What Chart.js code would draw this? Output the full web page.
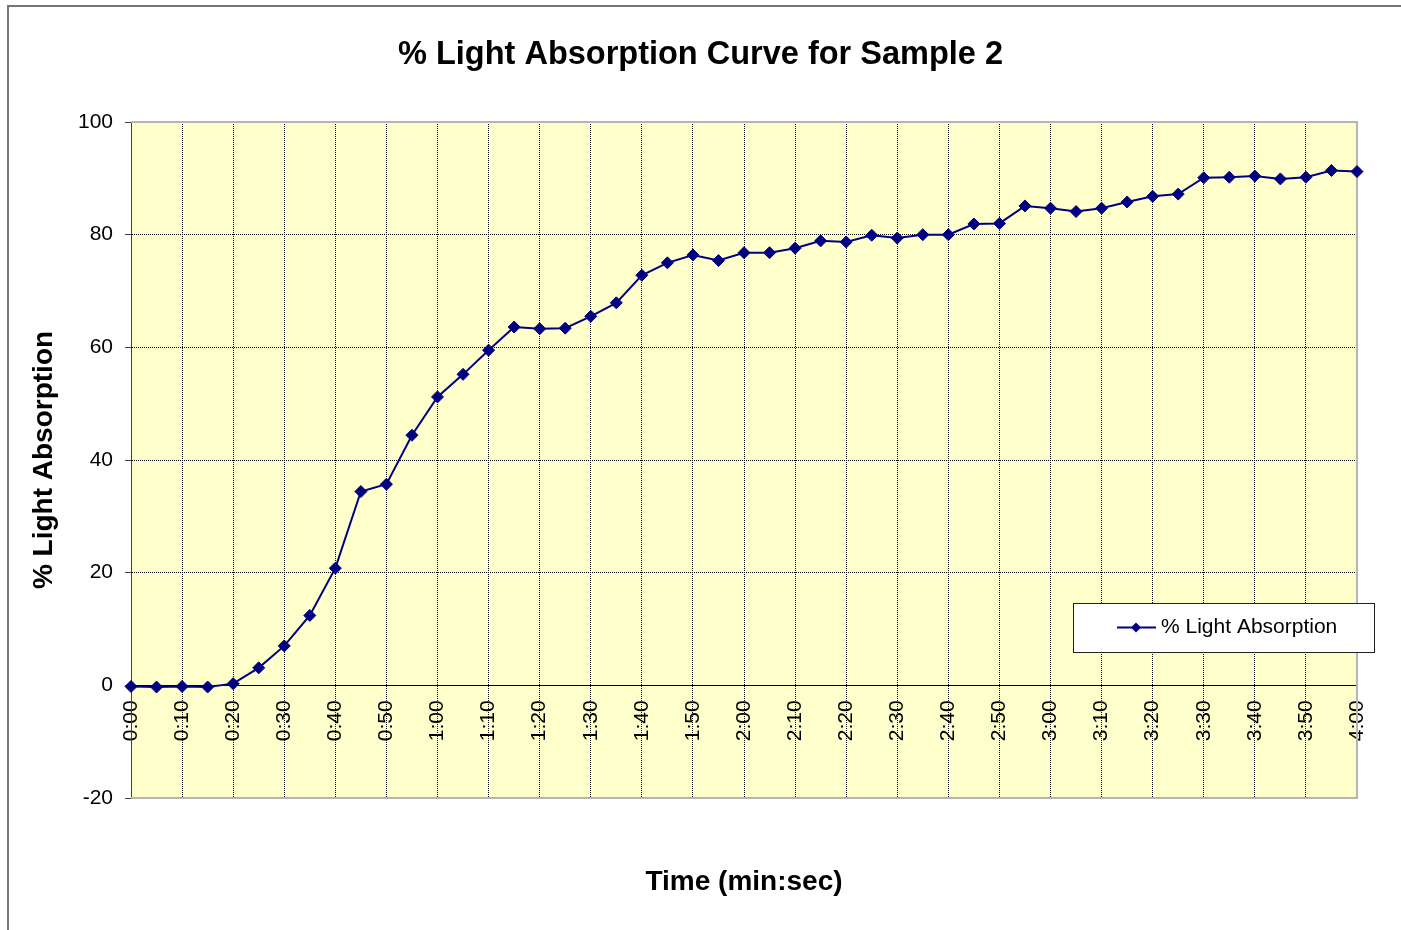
<!DOCTYPE html>
<html>
<head>
<meta charset="utf-8">
<title>% Light Absorption Curve for Sample 2</title>
<script src="https://cdn.jsdelivr.net/npm/chart.js@4.4.1/dist/chart.umd.min.js"></script>
<style>
  html, body { margin: 0; padding: 0; background: #fff; }
  #wrap { width: 1401px; height: 930px; }
</style>
</head>
<body>
<div id="wrap"><canvas id="absorptionChart" width="1401" height="930"></canvas></div>
<script>
// readings every 5 seconds, from 0:00 to 4:00
var timeLabels = [
  '0:00', '0:05', '0:10', '0:15', '0:20', '0:25', '0:30', '0:35', '0:40', '0:45',
  '0:50', '0:55', '1:00', '1:05', '1:10', '1:15', '1:20', '1:25', '1:30', '1:35',
  '1:40', '1:45', '1:50', '1:55', '2:00', '2:05', '2:10', '2:15', '2:20', '2:25',
  '2:30', '2:35', '2:40', '2:45', '2:50', '2:55', '3:00', '3:05', '3:10', '3:15',
  '3:20', '3:25', '3:30', '3:35', '3:40', '3:45', '3:50', '3:55', '4:00',
];

var absorptionValues = [
  -0.2, -0.3, -0.2, -0.3, 0.3, 3.1, 7.0, 12.4, 20.8, 34.4,
  35.7, 44.4, 51.2, 55.2, 59.5, 63.6, 63.3, 63.4, 65.5, 67.9,
  72.8, 75.0, 76.4, 75.4, 76.8, 76.8, 77.6, 78.9, 78.7, 79.9,
  79.4, 80.0, 80.0, 81.9, 82.0, 85.1, 84.7, 84.1, 84.7, 85.8,
  86.8, 87.2, 90.1, 90.2, 90.4, 89.9, 90.2, 91.4, 91.2,
];

var yMin = -20;
var yMax = 100;
var yStep = 20;

var chartTitle = '% Light Absorption Curve for Sample 2';
var seriesLabel = '% Light Absorption';
var xTitle = 'Time (min:sec)';
var yTitle = '% Light Absorption';

var FONT = "'Liberation Sans', Arial, sans-serif";
var NAVY = '#000080';

Chart.defaults.font.family = FONT;
Chart.defaults.color = '#000';

/**
 * plotFrame
 * paints the page frame, the yellow plot area, its grey border and
 * the boxed legend sitting inside the plot (Excel style)
 */
var plotFrame = {
  id : 'plotFrame',
  beforeDraw : function (chart) {
    var ctx = chart.ctx;
    var area = chart.chartArea;
    ctx.save();
    ctx.fillStyle = '#fff';
    ctx.fillRect(0, 0, chart.width, chart.height);

    // outer chart border
    ctx.strokeStyle = '#767676';
    ctx.lineWidth = 2;
    ctx.strokeRect(8, 6, chart.width + 10, chart.height + 10);

    ctx.fillStyle = '#FFFFCC';
    ctx.fillRect(area.left, area.top, area.right - area.left, area.bottom - area.top);
    ctx.restore();
  },
  beforeDatasetsDraw : function (chart) {
    var ctx = chart.ctx;
    var area = chart.chartArea;
    ctx.save();
    ctx.strokeStyle = '#b4b4b4';
    ctx.lineWidth = 2;
    ctx.beginPath();
    ctx.moveTo(area.left, area.top);
    ctx.lineTo(area.right, area.top);
    ctx.lineTo(area.right, area.bottom);
    ctx.lineTo(area.left, area.bottom);
    ctx.stroke();
    ctx.restore();
  },
  afterDraw : function (chart, args, opts) {
    var ctx = chart.ctx;
    var ds = chart.data.datasets[0];
    var box = opts.box;
    var midY = box.y + box.h / 2;
    var dx = box.x + 63;

    ctx.save();
    ctx.fillStyle = '#fff';
    ctx.fillRect(box.x, box.y, box.w, box.h);
    ctx.strokeStyle = '#222';
    ctx.lineWidth = 1;
    ctx.strokeRect(box.x + 0.5, box.y + 0.5, box.w, box.h);

    // line sample with a diamond marker
    ctx.strokeStyle = ds.borderColor;
    ctx.lineWidth = 2;
    ctx.beginPath();
    ctx.moveTo(box.x + 44, midY);
    ctx.lineTo(box.x + 83, midY);
    ctx.stroke();
    ctx.fillStyle = ds.pointBackgroundColor;
    ctx.beginPath();
    ctx.moveTo(dx - 5, midY);
    ctx.lineTo(dx, midY - 5);
    ctx.lineTo(dx + 5, midY);
    ctx.lineTo(dx, midY + 5);
    ctx.closePath();
    ctx.fill();

    ctx.fillStyle = '#000';
    ctx.font = '21px ' + FONT;
    ctx.textAlign = 'left';
    ctx.textBaseline = 'middle';
    ctx.fillText(ds.label, box.x + 88, midY);
    ctx.restore();
  },
};

var ctx = document.getElementById('absorptionChart').getContext('2d');

var absorptionChart = new Chart(ctx, {
  type : 'line',
  data : {
    labels : timeLabels,
    datasets : [
      {
        label : seriesLabel,
        data : absorptionValues,
        borderColor : NAVY,
        backgroundColor : NAVY,
        borderWidth : 2,
        tension : 0,
        pointStyle : 'rectRot',
        pointRadius : 6,
        pointBorderWidth : 1,
        pointBackgroundColor : NAVY,
        pointBorderColor : NAVY,
        clip : false,
      },
    ],
  },
  options : {
    responsive : false,
    animation : false,
    events : [],
    layout : { padding : 0 },
    plugins : {
      legend : { display : false },
      tooltip : { enabled : false },
      title : {
        display : true,
        text : chartTitle,
        color : '#000',
        font : { size : 32.5, weight : 'bold' },
        padding : { top : 36, bottom : 47 },
      },
      plotFrame : { box : { x : 1073, y : 603, w : 301, h : 49 } },
    },
    scales : {
      x : {
        type : 'category',
        position : { y : 0 },
        offset : false,
        grid : {
          drawTicks : false,
          lineWidth : 1,
          color : function (c) { return c.index % 2 === 0 ? '#000' : 'rgba(0,0,0,0)'; },
        },
        border : { display : true, color : '#000', width : 1, dash : [1, 1] },
        ticks : {
          autoSkip : false,
          minRotation : 90,
          maxRotation : 90,
          padding : 15,
          color : '#000',
          font : { size : 21 },
          callback : function (value, index) {
            return index % 2 === 0 ? this.getLabelForValue(value) : '';
          },
        },
      },
      // carries only the axis title below the plot
      xTitle : {
        type : 'category',
        position : 'bottom',
        grid : { display : false, drawTicks : false },
        border : { display : false },
        ticks : { display : false },
        title : {
          display : true,
          text : xTitle,
          color : '#000',
          font : { size : 28, weight : 'bold' },
          padding : { top : 0, bottom : 31 },
        },
        afterFit : function (scale) { scale.height = 132; },
      },
      y : {
        min : yMin,
        max : yMax,
        ticks : {
          stepSize : yStep,
          padding : 12,
          color : '#000',
          font : { size : 21 },
        },
        grid : {
          color : '#000',
          lineWidth : 1,
          drawTicks : true,
          tickLength : 6,
          tickColor : '#404040',
          tickBorderDash : [],
        },
        border : { display : true, color : '#404040', width : 1, dash : [1, 1] },
        title : {
          display : true,
          text : yTitle,
          color : '#000',
          font : { size : 28, weight : 'bold' },
          padding : { top : 27, bottom : 0 },
        },
        afterFit : function (scale) { scale.width = 131; },
      },
      // empty right-hand strip, keeps the plot clear of the page edge
      yPad : {
        type : 'linear',
        position : 'right',
        grid : { display : false, drawTicks : false },
        border : { display : false },
        ticks : { display : false },
        afterFit : function (scale) { scale.width = 44; },
      },
    },
  },
  plugins : [plotFrame],
});
</script>
</body>
</html>
